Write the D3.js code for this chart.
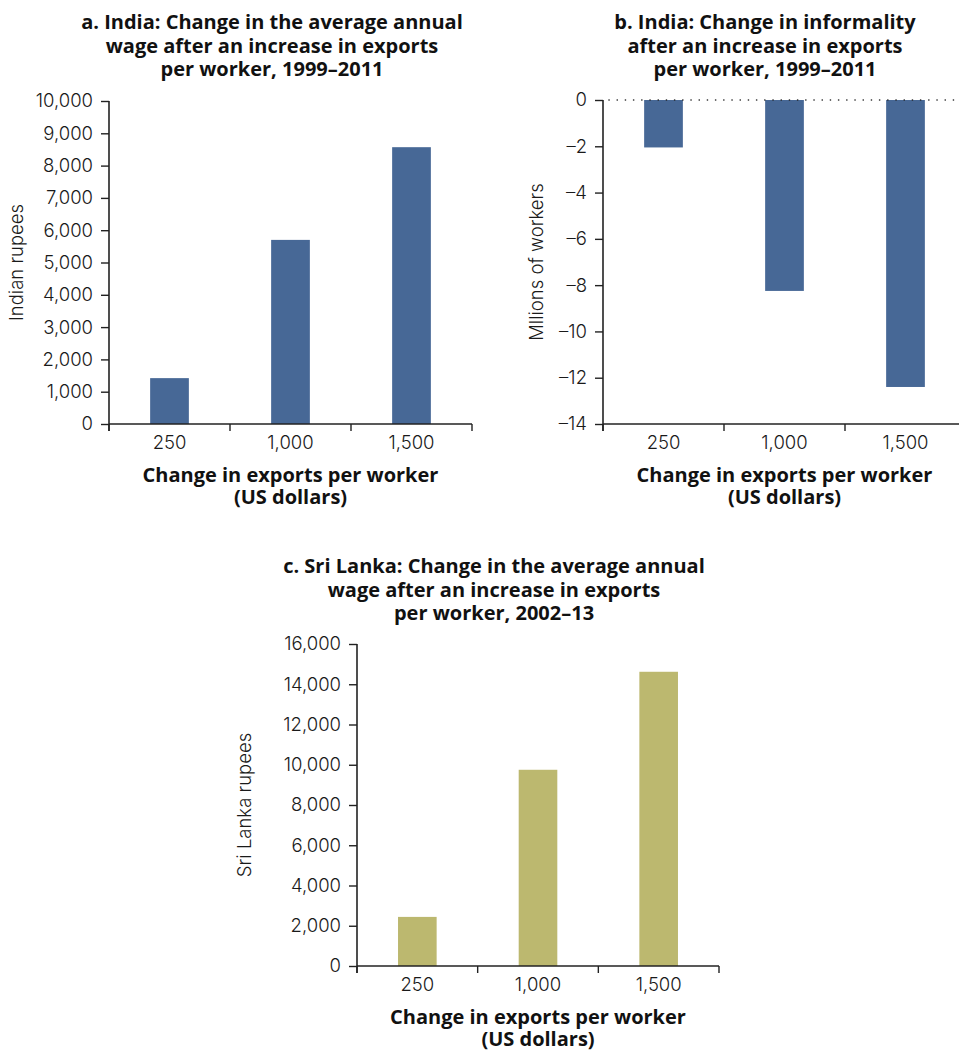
<!DOCTYPE html>
<html>
<head>
<meta charset="utf-8">
<script src="https://cdn.jsdelivr.net/npm/d3@7"></script>
<style>
  body { margin: 0; background: #fff; }
  svg { display: block; }
  .tick text { font-family: Inter, "Open Sans", sans-serif; font-weight: 300; font-size: 18.5px; fill: #1a1a1a; }
  .title { font-family: "Open Sans", sans-serif; font-weight: 700; font-size: 20px; fill: #111; }
  .xlabel { font-family: "Open Sans", sans-serif; font-weight: 700; font-size: 20px; fill: #111; }
  .ylabel { font-family: Inter, "Open Sans", sans-serif; font-weight: 300; font-size: 18.5px; fill: #1a1a1a; }
</style>
</head>
<body>
<div id="graph"></div>
<script>
// data
var categories       = ['250', '1,000', '1,500'];
var indiaWage        = [1420, 5700, 8570];
var indiaInformality = [-2.05, -8.25, -12.4];
var sriLankaWage     = [2440, 9750, 14620];

var indiaWageTicks   = [0, 1000, 2000, 3000, 4000, 5000, 6000, 7000, 8000, 9000, 10000];
var informalityTicks = [0, -2, -4, -6, -8, -10, -12, -14];
var sriLankaTicks    = [0, 2000, 4000, 6000, 8000, 10000, 12000, 14000, 16000];

var titleA = ['a. India: Change in the average annual', 'wage after an increase in exports', 'per worker, 1999\u20132011'];
var titleB = ['b. India: Change in informality', 'after an increase in exports', 'per worker, 1999\u20132011'];
var titleC = ['c. Sri Lanka: Change in the average annual', 'wage after an increase in exports', 'per worker, 2002\u201313'];
var xTitle = ['Change in exports per worker', '(US dollars)'];

var blue  = '#476896';
var olive = '#bcb86f';

var W = 959, H = 1051;

var svg = d3.select('div#graph')
            .append('svg')
            .attr('width', W)
            .attr('height', H);

var fmt = function (v)
{
    return v < 0 ? '\u2013' + d3.format(',')(-v) : d3.format(',')(v);
};

var drawChart = function (cfg)
{
    var g = svg.append('g');

    var x = d3.scaleBand()
              .domain(categories)
              .range([cfg.left, cfg.right])
              .paddingInner(0.68)
              .paddingOuter(0.34);

    var y = d3.scaleLinear()
              .domain(cfg.domain)
              .range([cfg.bottom, cfg.top]);

    var base = y(Math.max(cfg.domain[0], Math.min(0, cfg.domain[1])));

    // bars
    g.selectAll('rect.bar')
     .data(cfg.values)
     .enter()
     .append('rect')
     .attr('class', 'bar')
     .attr('x', function (d, i) { return x(categories[i]); })
     .attr('width', x.bandwidth())
     .attr('y', function (d) { return Math.min(y(d), base); })
     .attr('height', function (d) { return Math.abs(y(d) - base); })
     .attr('fill', cfg.color);

    // zero reference line
    if (cfg.zeroLine)
    {
        g.append('line')
         .attr('x1', cfg.left + 6)
         .attr('x2', W + 10)
         .attr('y1', y(0))
         .attr('y2', y(0))
         .attr('stroke', '#222')
         .attr('stroke-width', 1.6)
         .attr('stroke-linecap', 'round')
         .attr('stroke-dasharray', '0.1,8.1');
    }

    // y axis
    var yAxis = d3.axisLeft(y)
                  .tickValues(cfg.ticks)
                  .tickFormat(fmt)
                  .tickSize(8)
                  .tickPadding(8)
                  .tickSizeOuter(0);

    var ya = g.append('g')
              .attr('transform', 'translate(' + cfg.left + ',0)')
              .call(yAxis);
    ya.select('.domain').remove();
    ya.selectAll('.tick line').attr('stroke', '#222').attr('stroke-width', 1.4);

    g.append('line')
     .attr('x1', cfg.left).attr('x2', cfg.left)
     .attr('y1', cfg.top).attr('y2', cfg.bottom + 7)
     .attr('stroke', '#222')
     .attr('stroke-width', 1.6);

    // x axis: labels at band centres, ticks on band boundaries
    var xAxis = d3.axisBottom(x)
                  .tickSize(0)
                  .tickPadding(12);

    var xa = g.append('g')
              .attr('transform', 'translate(0,' + cfg.bottom + ')')
              .call(xAxis);
    xa.select('.domain').remove();
    xa.selectAll('.tick text').attr('dy', '0.71em');

    g.append('line')
     .attr('x1', cfg.left).attr('x2', cfg.right)
     .attr('y1', cfg.bottom).attr('y2', cfg.bottom)
     .attr('stroke', '#222')
     .attr('stroke-width', 1.6);

    var bounds = categories.map(function (c) { return x(c) - x.step() * x.paddingOuter(); });
    bounds.push(cfg.right);

    g.selectAll('line.xtick')
     .data(bounds)
     .enter()
     .append('line')
     .attr('class', 'xtick')
     .attr('x1', function (d) { return d; })
     .attr('x2', function (d) { return d; })
     .attr('y1', cfg.bottom)
     .attr('y2', cfg.bottom + 7)
     .attr('stroke', '#222')
     .attr('stroke-width', 1.4);

    // x title
    g.selectAll('text.xlabel')
     .data(xTitle)
     .enter()
     .append('text')
     .attr('class', 'xlabel')
     .attr('text-anchor', 'middle')
     .attr('x', (cfg.left + cfg.right) / 2)
     .attr('y', function (d, i) { return cfg.bottom + 58 + i * 22; })
     .text(function (d) { return d; });

    // y title
    g.append('text')
     .attr('class', 'ylabel')
     .attr('text-anchor', 'middle')
     .attr('transform', 'translate(' + cfg.yLabelX + ',' + (cfg.top + cfg.bottom) / 2 + ') rotate(-90)')
     .attr('dy', '0.35em')
     .text(cfg.yLabel);

    // chart title
    g.selectAll('text.title')
     .data(cfg.title)
     .enter()
     .append('text')
     .attr('class', 'title')
     .attr('text-anchor', 'middle')
     .attr('x', cfg.titleX)
     .attr('y', function (d, i) { return cfg.titleY + i * 23.5; })
     .text(function (d) { return d; });
};

drawChart({
    left: 109, right: 472, top: 101, bottom: 424,
    domain: [0, 10000], ticks: indiaWageTicks, values: indiaWage, color: blue,
    yLabel: 'Indian rupees', yLabelX: 17,
    title: titleA, titleX: 272, titleY: 29
});

drawChart({
    left: 603, right: 966, top: 100, bottom: 424,
    domain: [-14, 0], ticks: informalityTicks, values: indiaInformality, color: blue,
    zeroLine: true,
    yLabel: 'Mllions of workers', yLabelX: 537,
    title: titleB, titleX: 765, titleY: 29
});

drawChart({
    left: 357, right: 719, top: 644, bottom: 966,
    domain: [0, 16000], ticks: sriLankaTicks, values: sriLankaWage, color: olive,
    yLabel: 'Sri Lanka rupees', yLabelX: 245,
    title: titleC, titleX: 494, titleY: 573
});
</script>
</body>
</html>
